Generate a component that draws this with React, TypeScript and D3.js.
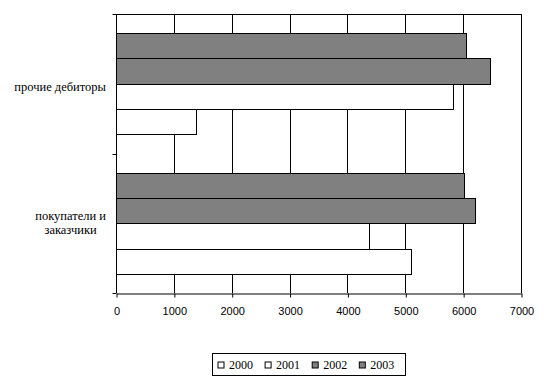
import { useRef, useEffect } from 'react'
import * as d3 from 'd3'

// categories listed top-to-bottom
const categories = ['прочие дебиторы', 'покупатели и заказчики']
const categoryLines = [['прочие дебиторы'], ['покупатели и', 'заказчики']]
const years = ['2000', '2001', '2002', '2003']
const values2000 = [1380, 5100]
const values2001 = [5830, 4370]
const values2002 = [6460, 6210]
const values2003 = [6050, 6020]
const xTicks = [0, 1000, 2000, 3000, 4000, 5000, 6000, 7000]

const seriesValues = [values2000, values2001, values2002, values2003]
const seriesFill = ['#ffffff', '#ffffff', '#808080', '#808080']
const serif = "'Liberation Serif', 'Times New Roman', serif"
const sans = "'Liberation Sans', Arial, sans-serif"

export default function App() {
  const svgRef = useRef<SVGSVGElement>(null)

  useEffect(() => {
    if (!svgRef.current) return
    const svg = d3.select(svgRef.current)
    svg.selectAll('*').remove()

    const width = 552
    const height = 386
    const margin = { top: 14, right: 31, bottom: 93, left: 116 }
    const innerW = width - margin.left - margin.right
    const innerH = height - margin.top - margin.bottom

    svg.attr('width', width).attr('height', height)
    const g = svg.append('g').attr('transform', `translate(${margin.left},${margin.top})`)

    const x = d3.scaleLinear().domain([0, 7000]).range([0, innerW])
    const y = d3.scaleBand().domain(categories).range([0, innerH]).padding(0)
    // within a category: 2003 on top, 2000 at the bottom
    const inner = d3
      .scaleBand()
      .domain([...years].reverse())
      .range([0, y.bandwidth()])
      .paddingInner(0)
      .paddingOuter(0.75)

    // Grid lines
    g.selectAll('.grid')
      .data(xTicks.slice(1))
      .enter()
      .append('line')
      .attr('x1', (d) => Math.round(x(d)) + 0.5)
      .attr('x2', (d) => Math.round(x(d)) + 0.5)
      .attr('y1', 0)
      .attr('y2', innerH)
      .attr('stroke', '#000')
    g.append('line')
      .attr('x1', 0)
      .attr('x2', innerW)
      .attr('y1', 0.5)
      .attr('y2', 0.5)
      .attr('stroke', '#000')

    // Bars
    years.forEach((yr, si) => {
      const top = (c: string) => Math.round((y(c) ?? 0) + (inner(yr) ?? 0))
      g.selectAll(`.bar-${yr}`)
        .data(categories)
        .enter()
        .append('rect')
        .attr('x', 0.5)
        .attr('y', (c) => top(c) + 0.5)
        .attr('width', (_, ci) => Math.round(x(seriesValues[si][ci])))
        .attr('height', (c) => Math.round((y(c) ?? 0) + (inner(yr) ?? 0) + inner.bandwidth()) - top(c))
        .attr('fill', seriesFill[si])
        .attr('stroke', '#000')
    })

    // X axis
    const xAxis = g
      .append('g')
      .attr('transform', `translate(0.5,${Math.round(innerH) + 0.5})`)
      .call(
        d3
          .axisBottom(x)
          .tickValues(xTicks)
          .tickFormat(d3.format('d'))
          .tickSize(4)
          .tickSizeOuter(0)
          .tickPadding(10),
      )
    xAxis.select('.domain').attr('stroke', '#000')
    xAxis.selectAll('line').attr('stroke', '#000')
    xAxis
      .selectAll('text')
      .attr('fill', '#000')
      .style('font-size', '11px')
      .style('font-family', sans)

    // Y axis (ticks at category boundaries)
    const yAxis = g.append('g').attr('transform', 'translate(0.5,0)')
    yAxis
      .append('line')
      .attr('x1', 0)
      .attr('x2', 0)
      .attr('y1', 0)
      .attr('y2', innerH)
      .attr('stroke', '#000')
    yAxis
      .selectAll('.ytick')
      .data([0, ...categories.map((c) => (y(c) ?? 0) + y.bandwidth())])
      .enter()
      .append('line')
      .attr('x1', -4)
      .attr('x2', 0)
      .attr('y1', (d) => Math.round(d) + 0.5)
      .attr('y2', (d) => Math.round(d) + 0.5)
      .attr('stroke', '#000')

    // Category labels: block right-aligned to the axis, lines centred inside it
    categories.forEach((c, ci) => {
      const lines = categoryLines[ci]
      const n = lines.length
      const cy = (y(c) ?? 0) + y.bandwidth() / 2
      const t = g
        .append('text')
        .attr('text-anchor', 'middle')
        .attr('fill', '#000')
        .style('font-size', '12.5px')
        .style('font-family', serif)
      const spans = lines.map((ln, li) =>
        t
          .append('tspan')
          .attr('y', cy + 7 - (n - 1) * 3 + (li - (n - 1) / 2) * 14)
          .text(ln),
      )
      const blockW = d3.max(spans, (s) => (s.node() as SVGTSpanElement).getComputedTextLength()) ?? 0
      spans.forEach((s) => s.attr('x', -10 - blockW / 2))
    })

    // Legend
    const leg = svg.append('g').attr('transform', 'translate(212.5,353.5)')
    leg.append('rect').attr('width', 193).attr('height', 22).attr('fill', '#fff').attr('stroke', '#000')
    years.forEach((yr, i) => {
      const item = leg.append('g').attr('transform', `translate(${5.5 + i * 47.1},8.5)`)
      item
        .append('rect')
        .attr('width', 6)
        .attr('height', 6)
        .attr('fill', seriesFill[i])
        .attr('stroke', '#000')
      item
        .append('text')
        .attr('x', 11)
        .attr('y', 7)
        .attr('fill', '#000')
        .style('font-size', '12px')
        .style('font-family', serif)
        .text(yr)
    })
  }, [])

  return (
    <div style={{ position: 'absolute', left: 0, top: 0, background: '#fff' }}>
      <svg ref={svgRef} style={{ display: 'block' }} />
    </div>
  )
}
